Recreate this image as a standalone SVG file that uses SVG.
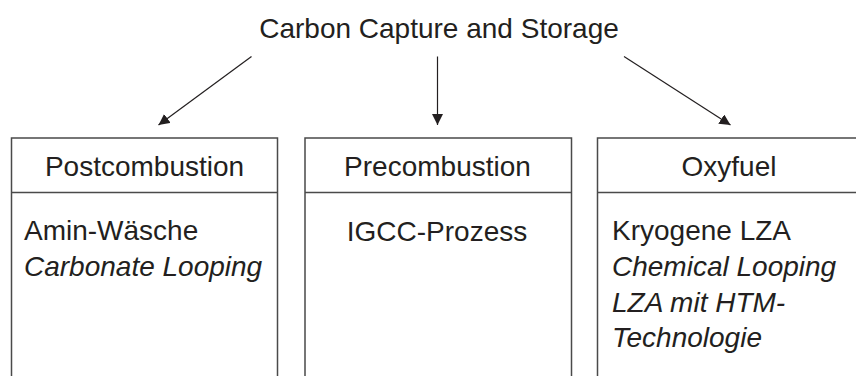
<svg xmlns="http://www.w3.org/2000/svg" width="856" height="376" viewBox="0 0 856 376">
<style>
  text { font-family: "Liberation Sans", Arial, sans-serif; font-size: 28px; fill: #231f20; }
  .it { font-style: italic; }
  .box { fill: #ffffff; stroke: #4a4a4a; stroke-width: 1.5; }
  .div { stroke: #4a4a4a; stroke-width: 1.5; }
  .conn { stroke: #231f20; stroke-width: 1.2; fill: none; }
</style>
<defs>
  <marker id="arr" markerUnits="userSpaceOnUse" markerWidth="12" markerHeight="12" refX="11" refY="5.5" orient="auto">
    <path d="M0,0 L11,5.5 L0,11 z" fill="#231f20"/>
  </marker>
</defs>
<rect width="856" height="376" fill="#ffffff"/>
<g id="root">
  <text x="439" y="37.5" text-anchor="middle">Carbon Capture and Storage</text>
</g>
<g id="connectors">
  <line class="conn" x1="251.5" y1="56.5" x2="158.5" y2="125" marker-end="url(#arr)"/>
  <line class="conn" x1="437.5" y1="56.5" x2="437.5" y2="125" marker-end="url(#arr)"/>
  <line class="conn" x1="624" y1="56.5" x2="730.5" y2="125" marker-end="url(#arr)"/>
</g>
<g id="postcombustion">
  <rect class="box" x="11.5" y="138" width="266" height="260"/>
  <line class="div" x1="11.5" y1="192.5" x2="277.5" y2="192.5"/>
  <text x="144.5" y="176" text-anchor="middle">Postcombustion</text>
  <text x="24" y="240">Amin-Wäsche</text>
  <text class="it" x="24" y="276">Carbonate Looping</text>
</g>
<g id="precombustion">
  <rect class="box" x="305" y="138" width="266.5" height="260"/>
  <line class="div" x1="305" y1="192.5" x2="571.5" y2="192.5"/>
  <text x="437.5" y="176" text-anchor="middle">Precombustion</text>
  <text x="437" y="241" text-anchor="middle">IGCC-Prozess</text>
</g>
<g id="oxyfuel">
  <rect class="box" x="597.5" y="138" width="266" height="260"/>
  <line class="div" x1="597.5" y1="192.5" x2="863.5" y2="192.5"/>
  <text x="729" y="176" text-anchor="middle">Oxyfuel</text>
  <text x="612" y="240">Kryogene LZA</text>
  <text class="it" x="612" y="276">Chemical Looping</text>
  <text class="it" x="612" y="311.5">LZA mit HTM-</text>
  <text class="it" x="612" y="347">Technologie</text>
</g>
</svg>
